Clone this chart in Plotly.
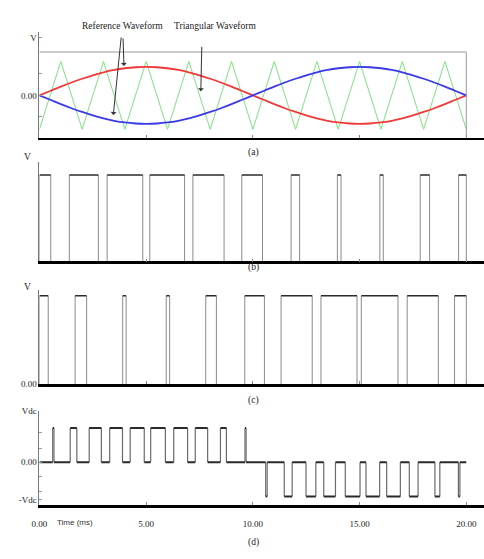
import plotly.graph_objects as go

# ---------------- data (times in ms) ----------------
t_ref = [i * 0.5 for i in range(41)]
ref_red = [0, 0.13, 0.26, 0.38, 0.49, 0.59, 0.68, 0.75, 0.80, 0.83, 0.84, 0.83, 0.80, 0.75, 0.68,
           0.59, 0.49, 0.38, 0.26, 0.13, 0, -0.13, -0.26, -0.38, -0.49, -0.59, -0.68, -0.75, -0.80,
           -0.83, -0.84, -0.83, -0.80, -0.75, -0.68, -0.59, -0.49, -0.38, -0.26, -0.13, 0]
ref_blue = [0, -0.13, -0.26, -0.38, -0.49, -0.59, -0.68, -0.75, -0.80, -0.83, -0.84, -0.83, -0.80,
            -0.75, -0.68, -0.59, -0.49, -0.38, -0.26, -0.13, 0, 0.13, 0.26, 0.38, 0.49, 0.59, 0.68,
            0.75, 0.80, 0.83, 0.84, 0.83, 0.80, 0.75, 0.68, 0.59, 0.49, 0.38, 0.26, 0.13, 0]
tri_t = [0, 1, 2, 3, 4, 5, 6, 7, 8, 9, 10, 11, 12, 13, 14, 15, 16, 17, 18, 19, 20]
tri_v = [-1, 1, -1, 1, -1, 1, -1, 1, -1, 1, -1, 1, -1, 1, -1, 1, -1, 1, -1, 1, -1]

# panel (b) gate pulses
b_on = [0.00, 1.40, 3.17, 5.17, 7.19, 9.48, 11.79, 13.96, 15.95, 17.84, 19.64]
b_off = [0.53, 2.76, 4.84, 6.80, 8.65, 10.45, 12.19, 14.13, 16.11, 18.28, 20.00]
# panel (c) gate pulses
c_on = [0.00, 1.67, 3.90, 5.94, 7.79, 9.62, 11.32, 13.19, 15.08, 17.23, 19.45]
c_off = [0.41, 2.21, 4.06, 6.10, 8.29, 10.54, 12.78, 14.88, 16.80, 18.69, 20.00]
# panel (d) line voltage pulses
d_pos_on = [0.62, 1.44, 2.33, 3.29, 4.25, 5.21, 6.29, 7.30, 8.48, 9.63]
d_pos_off = [0.68, 1.75, 2.90, 3.89, 4.91, 5.90, 6.94, 7.88, 8.76, 9.68]
d_neg_on = [10.60, 11.47, 12.49, 13.32, 14.33, 15.30, 16.27, 17.33, 18.53, 19.63]
d_neg_off = [10.67, 11.84, 12.95, 13.87, 15.02, 15.94, 16.91, 17.74, 18.76, 19.70]

x_ticks = [0, 5, 10, 15, 20]
x_ticklabels = ["0.00", "5.00", "10.00", "15.00", "20.00"]

# ---------------- helpers ----------------
W, H = 484, 559
SERIF = "Liberation Serif"
TOP_C, VERT_C = "#2a2a2a", "#8a8a8a"


def py(p):
    return 1 - p / H


def px(p):
    return p / W


def pulses(ons, offs, level, base):
    hx, hy, vx, vy = [], [], [], []
    for a, b in zip(ons, offs):
        hx += [a, b, None]
        hy += [level, level, None]
        vx += [a, a, None, b, b, None]
        vy += [base, level, None, base, level, None]
    return hx, hy, vx, vy


def zero_gaps(ons, offs, t0=0, t1=20):
    iv = sorted(zip(ons, offs))
    xs, ys = [], []
    cur = t0
    for a, b in iv:
        if a > cur:
            xs += [cur, a, None]
            ys += [0, 0, None]
        cur = max(cur, b)
    if cur < t1:
        xs += [cur, t1, None]
        ys += [0, 0, None]
    return xs, ys


fig = go.Figure()

# panel (a)
fig.add_trace(go.Scatter(x=tri_t, y=tri_v, mode="lines", line=dict(color="#7ee27e", width=1),
                         xaxis="x", yaxis="y", showlegend=False))
fig.add_trace(go.Scatter(x=t_ref, y=ref_red, mode="lines", line=dict(color="#f03a3a", width=1.8, shape="spline"),
                         xaxis="x", yaxis="y", showlegend=False))
fig.add_trace(go.Scatter(x=t_ref, y=ref_blue, mode="lines", line=dict(color="#3a3ae6", width=1.8, shape="spline"),
                         xaxis="x", yaxis="y", showlegend=False))

# panel (b), (c)
for ons, offs, xa, ya in [(b_on, b_off, "x2", "y2"), (c_on, c_off, "x3", "y3")]:
    hx, hy, vx, vy = pulses(ons, offs, 1, 0)
    fig.add_trace(go.Scatter(x=vx, y=vy, mode="lines", line=dict(color=VERT_C, width=1),
                             xaxis=xa, yaxis=ya, showlegend=False))
    fig.add_trace(go.Scatter(x=hx, y=hy, mode="lines", line=dict(color=TOP_C, width=1.6),
                             xaxis=xa, yaxis=ya, showlegend=False))

# panel (d)
hx1, hy1, vx1, vy1 = pulses(d_pos_on, d_pos_off, 1, 0)
hx2, hy2, vx2, vy2 = pulses(d_neg_on, d_neg_off, -1, 0)
zx, zy = zero_gaps(d_pos_on + d_neg_on, d_pos_off + d_neg_off)
fig.add_trace(go.Scatter(x=vx1 + vx2, y=vy1 + vy2, mode="lines", line=dict(color="#6a6a6a", width=1.2),
                         xaxis="x4", yaxis="y4", showlegend=False))
fig.add_trace(go.Scatter(x=hx1 + hx2 + zx, y=hy1 + hy2 + zy, mode="lines", line=dict(color=TOP_C, width=2),
                         xaxis="x4", yaxis="y4", showlegend=False))

XR = [0, (W - 32) / 21.7]
XDOM = [px(32), 1]
tickfont = dict(family=SERIF, size=9, color="#222")


def xaxis(anchor, labels=False, lw=2.5):
    d = dict(domain=XDOM, range=XR, anchor=anchor, showgrid=False, zeroline=False,
             showline=True, linecolor="black", linewidth=lw,
             ticks="inside", ticklen=3, tickcolor="#888", tickwidth=1,
             tickvals=x_ticks, ticktext=x_ticklabels, showticklabels=labels, tickfont=tickfont)
    if labels:
        d["ticklabelstandoff"] = 9
    return d


def yaxis(anchor, dom, rng, tv, tt):
    return dict(domain=dom, range=rng, anchor=anchor, showgrid=False, zeroline=False,
                showline=True, linecolor="#777", linewidth=1,
                ticks="inside", ticklen=3, tickcolor="#999", tickwidth=1,
                tickvals=tv, ticktext=tt, tickfont=tickfont)


fig.update_layout(
    width=W, height=H, margin=dict(l=0, r=0, t=0, b=0),
    paper_bgcolor="white", plot_bgcolor="white",
    xaxis=xaxis("y", lw=2),
    yaxis=yaxis("x", [py(135), py(28)], [-1.246, 1.855], [1.71, 0.64, 0, -0.61], ["V", "", "0.00", ""]),
    xaxis2=xaxis("y2"),
    yaxis2=yaxis("x2", [py(261), py(160)], [0, 1.148], [], []),
    xaxis3=xaxis("y3"),
    yaxis3=yaxis("x3", [py(386), py(290)], [0, 1.067], [0], ["0.00"]),
    xaxis4=xaxis("y4", labels=True),
    yaxis4=yaxis("x4", [py(509), py(413)], [-1.243, 1.505],
                 [1.5, 0.87, 0.39, 0, -0.41, -0.84, -1.1], ["Vdc", "", "", "0.00", "", "", "-Vdc"]),
    shapes=[
        dict(type="line", xref="x", yref="y", x0=0, x1=20, y0=1.28, y1=1.28, line=dict(color="#999", width=1)),
        dict(type="line", xref="x", yref="y", x0=20, x1=20, y0=-1.246, y1=1.28, line=dict(color="#999", width=1)),
    ],
)

ann = []
txt = dict(family=SERIF, size=9.5, color="#222")
for label, xx, yy in [("(a)", 250, 150), ("(b)", 250, 267), ("(c)", 250, 403), ("(d)", 250, 547),
                      ("Reference Waveform", 116, 21), ("Triangular Waveform", 210, 21),
                      ("V", 20, 155), ("V", 20, 287)]:
    ann.append(dict(x=px(xx), y=py(yy), xref="paper", yref="paper", text=label, showarrow=False,
                    font=txt, xanchor="center", yanchor="middle"))
ann.append(dict(x=px(68), y=py(527), xref="paper", yref="paper", text="Time (ms)", showarrow=False,
                font=dict(family="Liberation Sans Narrow, Liberation Sans", size=8, color="#333"),
                xanchor="center", yanchor="middle"))
# arrows
for hx_, hy_, ax_, ay_ in [(3.96, 0.87, -1, -29), (3.46, -0.58, 8, -79), (7.56, 0.12, 1, -46)]:
    ann.append(dict(x=hx_, y=hy_, xref="x", yref="y", text="", showarrow=True, ax=ax_, ay=ay_,
                    arrowhead=1, arrowsize=1, arrowwidth=1, arrowcolor="#333"))
fig.update_layout(annotations=ann)

fig.write_html("out.html")
